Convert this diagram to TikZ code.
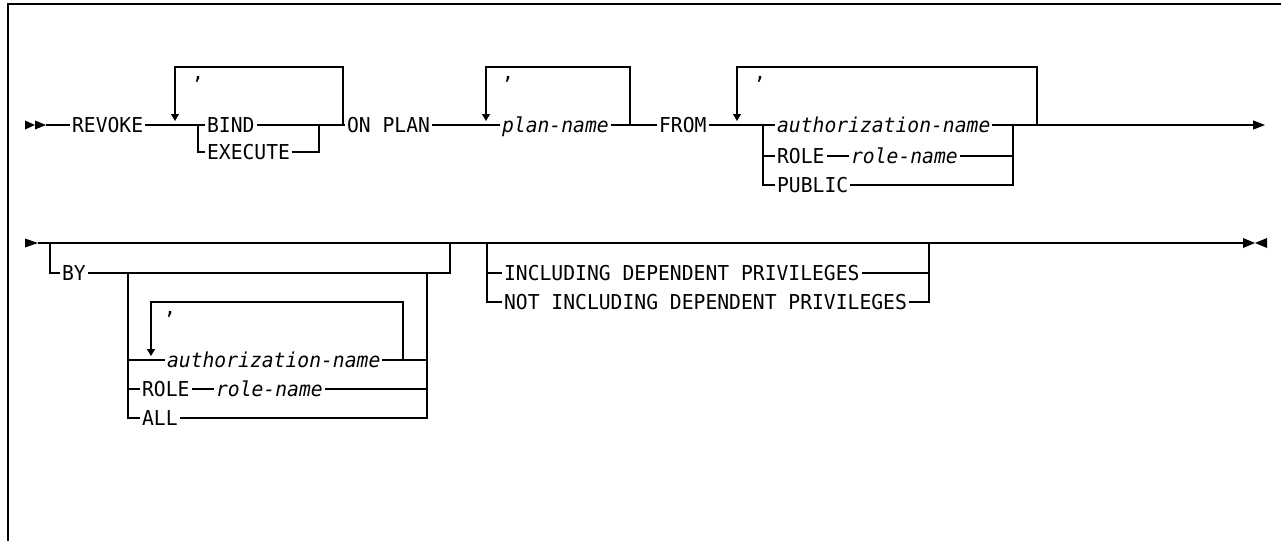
\documentclass[tikz,border=0pt]{standalone}
\usepackage{fontspec}
\setmainfont[FakeStretch=0.96]{DejaVu Sans Mono}
\usetikzlibrary{arrows.meta}

\tikzset{
  kwd/.style={anchor=west, inner xsep=1.5pt, inner ysep=0pt,
    text height=15pt, text depth=0pt, font=\fontsize{20.5}{23}\selectfont},
  varname/.style={kwd, font=\fontsize{20.5}{23}\selectfont\itshape},
  commasym/.style={anchor=base, inner sep=0pt, font=\fontsize{20.5}{23}\selectfont},
  repeatarrow/.style={-{Triangle[width=8pt,length=7pt]}},
}

\begin{document}
\begin{tikzpicture}[x=1pt, y=-1pt, line width=1.2pt]
  \useasboundingbox (0,0) rectangle (1281,541);

  % Frame
  \draw[line width=2pt] (8,541) -- (8,4) -- (1281,4);

  % Row 1: REVOKE ... ON PLAN ... FROM
  \fill (25,120.5) -- (35,125) -- (25,129.5) -- cycle;
  \fill (35,120.5) -- (46,125) -- (35,129.5) -- cycle;
  \coordinate (s1) at (46,125);
  \node[kwd] (revoke) at (70,125) {REVOKE};
  \node[kwd] (bind) at (205,125) {BIND};
  \node[kwd] (execute) at (205,152) {EXECUTE};
  \node[kwd] (onplan) at (345,125) {ON PLAN};
  \node[varname] (plan) at (500,125) {plan-name};
  \node[kwd] (from) at (657,125) {FROM};
  \node[varname] (auth1) at (775,125) {authorization-name};
  \node[kwd] (role1) at (775,156) {ROLE};
  \node[varname] (rname1) at (849,156) {role-name};
  \node[kwd] (public) at (775,185) {PUBLIC};
  \coordinate (e1) at (1265,125);

  % junctions and repeat points
  \coordinate (r1a) at (175,125);  \coordinate (r1b) at (343,125);
  \coordinate (j1a) at (198,125);  \coordinate (j1b) at (319,125);
  \coordinate (r2a) at (486,125);  \coordinate (r2b) at (630,125);
  \coordinate (r3a) at (737,125);  \coordinate (r3b) at (1037,125);
  \coordinate (j3a) at (763,125);  \coordinate (j3b) at (1013,125);

  \draw (s1) -- (revoke.west);
  \draw (revoke.east) -- (bind.west);
  \draw (bind.east) -- (onplan.west);
  \draw (j1a) |- (execute.west);
  \draw (execute.east) -| (j1b);
  \draw[repeatarrow] (r1b) -- ++(0,-58) -- ++(-168,0) -- ++(0,54);
  \node[commasym] (c1) at (198,79) {,};

  \draw (onplan.east) -- (plan.west);
  \draw (plan.east) -- (from.west);
  \draw[repeatarrow] (r2b) -- ++(0,-58) -- ++(-144,0) -- ++(0,54);
  \node[commasym] (c2) at (508,79) {,};

  \draw (from.east) -- (auth1.west);
  \draw (j3a) |- (role1.west);
  \draw (j3a) |- (public.west);
  \draw (role1.east) -- (rname1.west);
  \draw (rname1.east) -| (j3b);
  \draw (public.east) -| (j3b);
  \draw[repeatarrow] (r3b) -- ++(0,-58) -- ++(-300,0) -- ++(0,54);
  \node[commasym] (c3) at (760,79) {,};
  \draw[-{Triangle[width=9pt,length=12pt]}] (auth1.east) -- (e1);

  % Row 2: BY ... INCLUDING DEPENDENT PRIVILEGES
  \fill (25,238.5) -- (38,243) -- (25,247.5) -- cycle;
  \coordinate (s2) at (38,243);
  \coordinate (e2) at (1243,243);
  \node[kwd] (by) at (60,273) {BY};
  \node[varname] (auth2) at (165,360) {authorization-name};
  \node[kwd] (role2) at (140,389) {ROLE};
  \node[varname] (rname2) at (214,389) {role-name};
  \node[kwd] (all) at (140,418) {ALL};
  \node[kwd] (inc) at (502,273) {INCLUDING DEPENDENT PRIVILEGES};
  \node[kwd] (notinc) at (502,302) {NOT INCLUDING DEPENDENT PRIVILEGES};

  \coordinate (j4a) at (50,243);   \coordinate (j4b) at (450,243);
  \coordinate (j5a) at (128,273);  \coordinate (j5b) at (427,273);
  \coordinate (r5a) at (151,360);  \coordinate (r5b) at (403,360);
  \coordinate (j6a) at (487,243);  \coordinate (j6b) at (929,243);

  \draw (s2) -- (e2);
  \draw (j4a) |- (by.west);
  \draw (by.east) -| (j4b);
  \draw (j5a) |- (auth2.west);
  \draw (j5a) |- (role2.west);
  \draw (j5a) |- (all.west);
  \draw (auth2.east) -| (j5b);
  \draw (role2.east) -- (rname2.west);
  \draw (rname2.east) -| (j5b);
  \draw (all.east) -| (j5b);
  \draw[repeatarrow] (r5b) -- ++(0,-58) -- ++(-252,0) -- ++(0,54);
  \node[commasym] (c5) at (170,314) {,};

  \draw (j6a) |- (inc.west);
  \draw (j6a) |- (notinc.west);
  \draw (inc.east) -| (j6b);
  \draw (notinc.east) -| (j6b);

  % end marker
  \fill (1243,238) -- (1255,243) -- (1243,248) -- cycle;
  \fill (1267,238) -- (1255,243) -- (1267,248) -- cycle;
\end{tikzpicture}
\end{document}
